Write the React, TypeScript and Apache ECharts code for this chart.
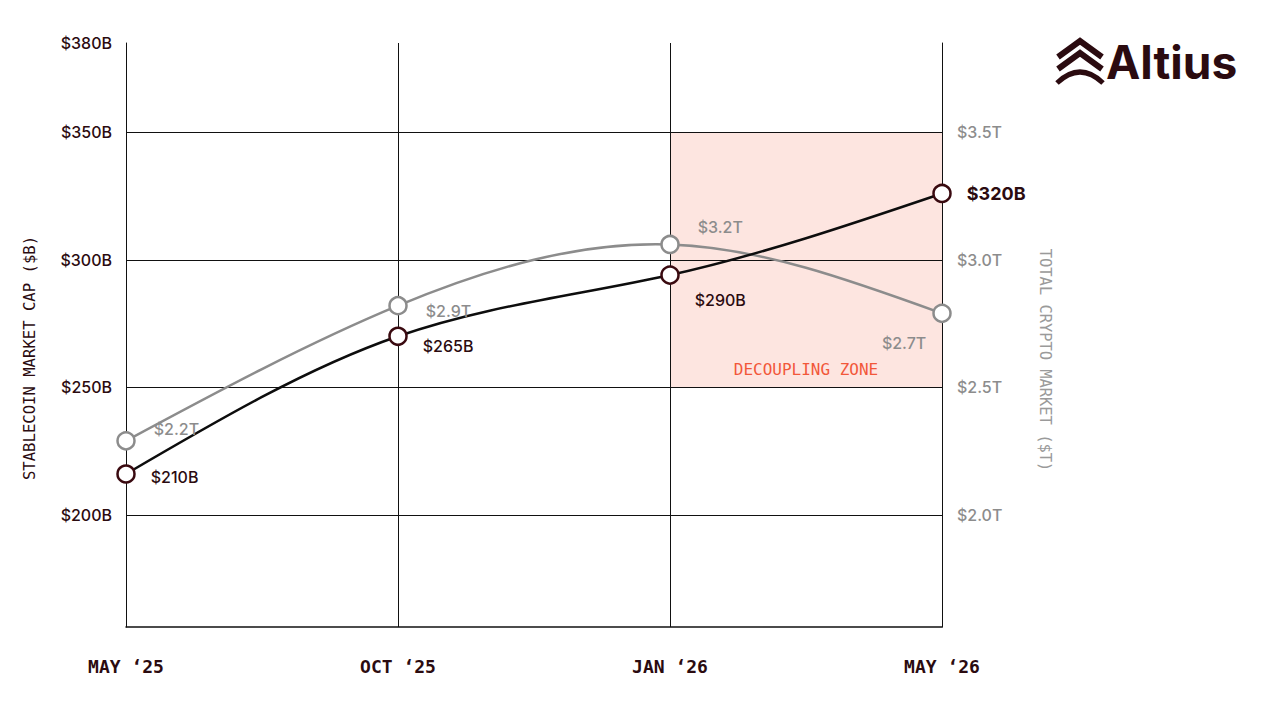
import { useEffect, useRef } from "react";
import * as echarts from "echarts";

// ---- data ----
const months = ["MAY \u201825", "OCT \u201825", "JAN \u201826", "MAY \u201826"];
const stablecoinValues = [216, 270, 294, 326];
const stablecoinLabels = ["$210B", "$265B", "$290B", "$320B"];
const cryptoValues = [2.29, 2.82, 3.06, 2.79];
const cryptoLabels = ["$2.2T", "$2.9T", "$3.2T", "$2.7T"];
const leftTickValues = [200, 250, 300, 350];
const leftTickLabels = ["$200B", "$250B", "$300B", "$350B"];
const leftTopValue = 385;
const leftTopLabel = "$380B";
const rightTickValues = [2.0, 2.5, 3.0, 3.5];
const rightTickLabels = ["$2.0T", "$2.5T", "$3.0T", "$3.5T"];
const zoneMonths = ["JAN \u201826", "MAY \u201826"];
const zoneRange = [250, 350];
const zoneLabel = "DECOUPLING ZONE";
const leftAxisName = "STABLECOIN MARKET CAP ($B)";
const rightAxisName = "TOTAL CRYPTO MARKET ($T)";
const brand = "Altius";

// ---- styling ----
const MAROON = "#2b0b10";
const GRAY = "#8c8c8c";
const LINE = "#111111";

const stableLabelStyle = [
  { position: "right", distance: 15, offset: [0, 3] },
  { position: "right", distance: 15, offset: [0, 10] },
  { position: "right", distance: 15, offset: [0, 25] },
  { position: "right", distance: 15, offset: [0, 0], fontWeight: "bold", fontSize: 18 },
];
const cryptoLabelStyle = [
  { position: "right", distance: 18, offset: [0, -12] },
  { position: "right", distance: 18, offset: [0, 5] },
  { position: "right", distance: 18, offset: [0, -17] },
  { position: "left", distance: 6, offset: [0, 30] },
];

function findLabel(values: number[], labels: string[], v: number) {
  for (let i = 0; i < values.length; i++) {
    if (Math.abs(values[i] - v) < 1e-6) return labels[i];
  }
  return "";
}

// natural cubic spline control points (same scheme as d3.curveNatural)
function controlPoints(x: number[]) {
  const n = x.length - 1;
  const a = new Array(n);
  const b = new Array(n);
  const r = new Array(n);
  a[0] = 0;
  b[0] = 2;
  r[0] = x[0] + 2 * x[1];
  for (let i = 1; i < n - 1; ++i) {
    a[i] = 1;
    b[i] = 4;
    r[i] = 4 * x[i] + 2 * x[i + 1];
  }
  a[n - 1] = 2;
  b[n - 1] = 7;
  r[n - 1] = 8 * x[n - 1] + x[n];
  for (let i = 1; i < n; ++i) {
    const m = a[i] / b[i - 1];
    b[i] -= m;
    r[i] -= m * r[i - 1];
  }
  a[n - 1] = r[n - 1] / b[n - 1];
  for (let i = n - 2; i >= 0; --i) a[i] = (r[i] - a[i + 1]) / b[i];
  b[n - 1] = (x[n] + a[n - 1]) / 2;
  for (let i = 0; i < n - 1; ++i) b[i] = 2 * x[i + 1] - a[i + 1];
  return [a, b];
}

function naturalPath(pts: number[][]) {
  const xs = pts.map((p) => p[0]);
  const ys = pts.map((p) => p[1]);
  const [ax, bx] = controlPoints(xs);
  const [ay, by] = controlPoints(ys);
  let d = `M${xs[0]},${ys[0]}`;
  for (let i = 0; i < xs.length - 1; i++) {
    d += `C${ax[i]},${ay[i]},${bx[i]},${by[i]},${xs[i + 1]},${ys[i + 1]}`;
  }
  return d;
}

function curveSeries(values: number[], yAxisIndex: number, color: string, width: number) {
  return {
    type: "custom",
    yAxisIndex,
    silent: true,
    data: values.map((v, i) => [i, v]),
    renderItem: (params: any, api: any) => {
      if (params.dataIndex !== 0) return null;
      const pts = values.map((v, i) => api.coord([i, v]));
      return {
        type: "path",
        shape: { pathData: naturalPath(pts) },
        style: { stroke: color, lineWidth: width, fill: "none" },
      };
    },
  };
}

export default function App() {
  const ref = useRef<HTMLDivElement>(null);

  useEffect(() => {
    if (!ref.current) return;
    const chart = echarts.init(ref.current, null, { renderer: "svg" });
    const option: any = {
      animation: false,
      backgroundColor: "#ffffff",
      grid: { left: 126, right: 338, top: 43, bottom: 93 },
      xAxis: {
        type: "category",
        data: months,
        boundaryGap: false,
        axisLine: { show: true, lineStyle: { color: LINE, width: 1.5 } },
        axisTick: { show: false },
        axisLabel: {
          interval: 0,
          margin: 30,
          color: MAROON,
          fontFamily: "DejaVu Sans Mono",
          fontWeight: "bold",
          fontSize: 18,
        },
        splitLine: { show: true, interval: 0, lineStyle: { color: LINE, width: 1 } },
      },
      yAxis: [
        {
          type: "value",
          min: 156,
          max: leftTopValue,
          position: "left",
          axisLine: { show: true, lineStyle: { color: LINE, width: 1 } },
          axisTick: { show: false, customValues: leftTickValues },
          axisLabel: {
            customValues: [...leftTickValues, leftTopValue],
            formatter: (v: number) =>
              v === leftTopValue ? leftTopLabel : findLabel(leftTickValues, leftTickLabels, v),
            color: MAROON,
            fontFamily: "Inter",
            fontWeight: 500,
            fontSize: 16,
            margin: 14,
          },
          splitLine: { show: true, lineStyle: { color: LINE, width: 1 } },
        },
        {
          type: "value",
          min: 1.56,
          max: 3.85,
          position: "right",
          axisLine: { show: true, lineStyle: { color: LINE, width: 1 } },
          axisTick: { show: false, customValues: rightTickValues },
          axisLabel: {
            customValues: rightTickValues,
            formatter: (v: number) => findLabel(rightTickValues, rightTickLabels, v),
            color: GRAY,
            fontFamily: "Inter",
            fontWeight: 500,
            fontSize: 16,
            margin: 15,
          },
          splitLine: { show: false },
        },
      ],
      series: [
        {
          type: "line",
          yAxisIndex: 0,
          z: -1,
          silent: true,
          data: stablecoinValues,
          symbol: "none",
          lineStyle: { opacity: 0 },
          markArea: {
            z: -1,
            silent: true,
            itemStyle: { color: "#fde5e0" },
            label: {
              show: true,
              position: "insideBottom",
              distance: 10,
              color: "#f2573a",
              fontFamily: "DejaVu Sans Mono",
              fontSize: 16,
            },
            data: [
              [
                { name: zoneLabel, xAxis: zoneMonths[0], yAxis: zoneRange[1] },
                { xAxis: zoneMonths[1], yAxis: zoneRange[0] },
              ],
            ],
          },
        },
        curveSeries(cryptoValues, 1, GRAY, 2.5),
        curveSeries(stablecoinValues, 0, "#0d0d0d", 2.5),
        {
          type: "line",
          yAxisIndex: 1,
          symbol: "circle",
          symbolSize: 17,
          itemStyle: { color: "#ffffff", borderColor: GRAY, borderWidth: 2.5 },
          lineStyle: { opacity: 0, width: 0 },
          label: {
            show: true,
            color: GRAY,
            fontFamily: "Inter",
            fontWeight: 500,
            fontSize: 16,
            formatter: (p: any) => cryptoLabels[p.dataIndex],
          },
          data: cryptoValues.map((v, i) => ({ value: v, label: cryptoLabelStyle[i] })),
        },
        {
          type: "line",
          yAxisIndex: 0,
          symbol: "circle",
          symbolSize: 17,
          itemStyle: { color: "#ffffff", borderColor: "#3a0a10", borderWidth: 2.5 },
          lineStyle: { opacity: 0, width: 0 },
          label: {
            show: true,
            color: MAROON,
            fontFamily: "Inter",
            fontWeight: 500,
            fontSize: 16,
            formatter: (p: any) => stablecoinLabels[p.dataIndex],
          },
          data: stablecoinValues.map((v, i) => ({ value: v, label: stableLabelStyle[i] })),
        },
      ],
      graphic: [
        {
          type: "text",
          x: 30,
          y: 358,
          rotation: Math.PI / 2,
          style: {
            text: leftAxisName,
            fill: MAROON,
            font: "15.6px 'DejaVu Sans Mono'",
            align: "center",
            verticalAlign: "middle",
          },
        },
        {
          type: "text",
          x: 1045,
          y: 360,
          rotation: -Math.PI / 2,
          style: {
            text: rightAxisName,
            fill: "#9a9a9a",
            font: "15.4px 'DejaVu Sans Mono'",
            align: "center",
            verticalAlign: "middle",
          },
        },
        // logo mark
        {
          type: "polyline",
          shape: { points: [[1058, 57], [1080, 41], [1102, 57]] },
          style: { stroke: MAROON, lineWidth: 6, fill: null },
        },
        {
          type: "polyline",
          shape: { points: [[1058, 69], [1080, 53], [1102, 69]] },
          style: { stroke: MAROON, lineWidth: 6, fill: null },
        },
        {
          type: "bezierCurve",
          shape: { x1: 1057, y1: 83, cpx1: 1080, cpy1: 61, x2: 1103, y2: 83 },
          style: { stroke: MAROON, lineWidth: 5, fill: null },
        },
        {
          type: "text",
          x: 1106,
          y: 62,
          style: {
            text: brand,
            fill: MAROON,
            font: "bold 46px Inter",
            align: "left",
            verticalAlign: "middle",
          },
        },
      ],
    };
    chart.setOption(option);
    return () => chart.dispose();
  }, []);

  return (
    <div
      ref={ref}
      style={{ position: "fixed", left: 0, top: 0, width: 1280, height: 720, background: "#fff" }}
    />
  );
}
